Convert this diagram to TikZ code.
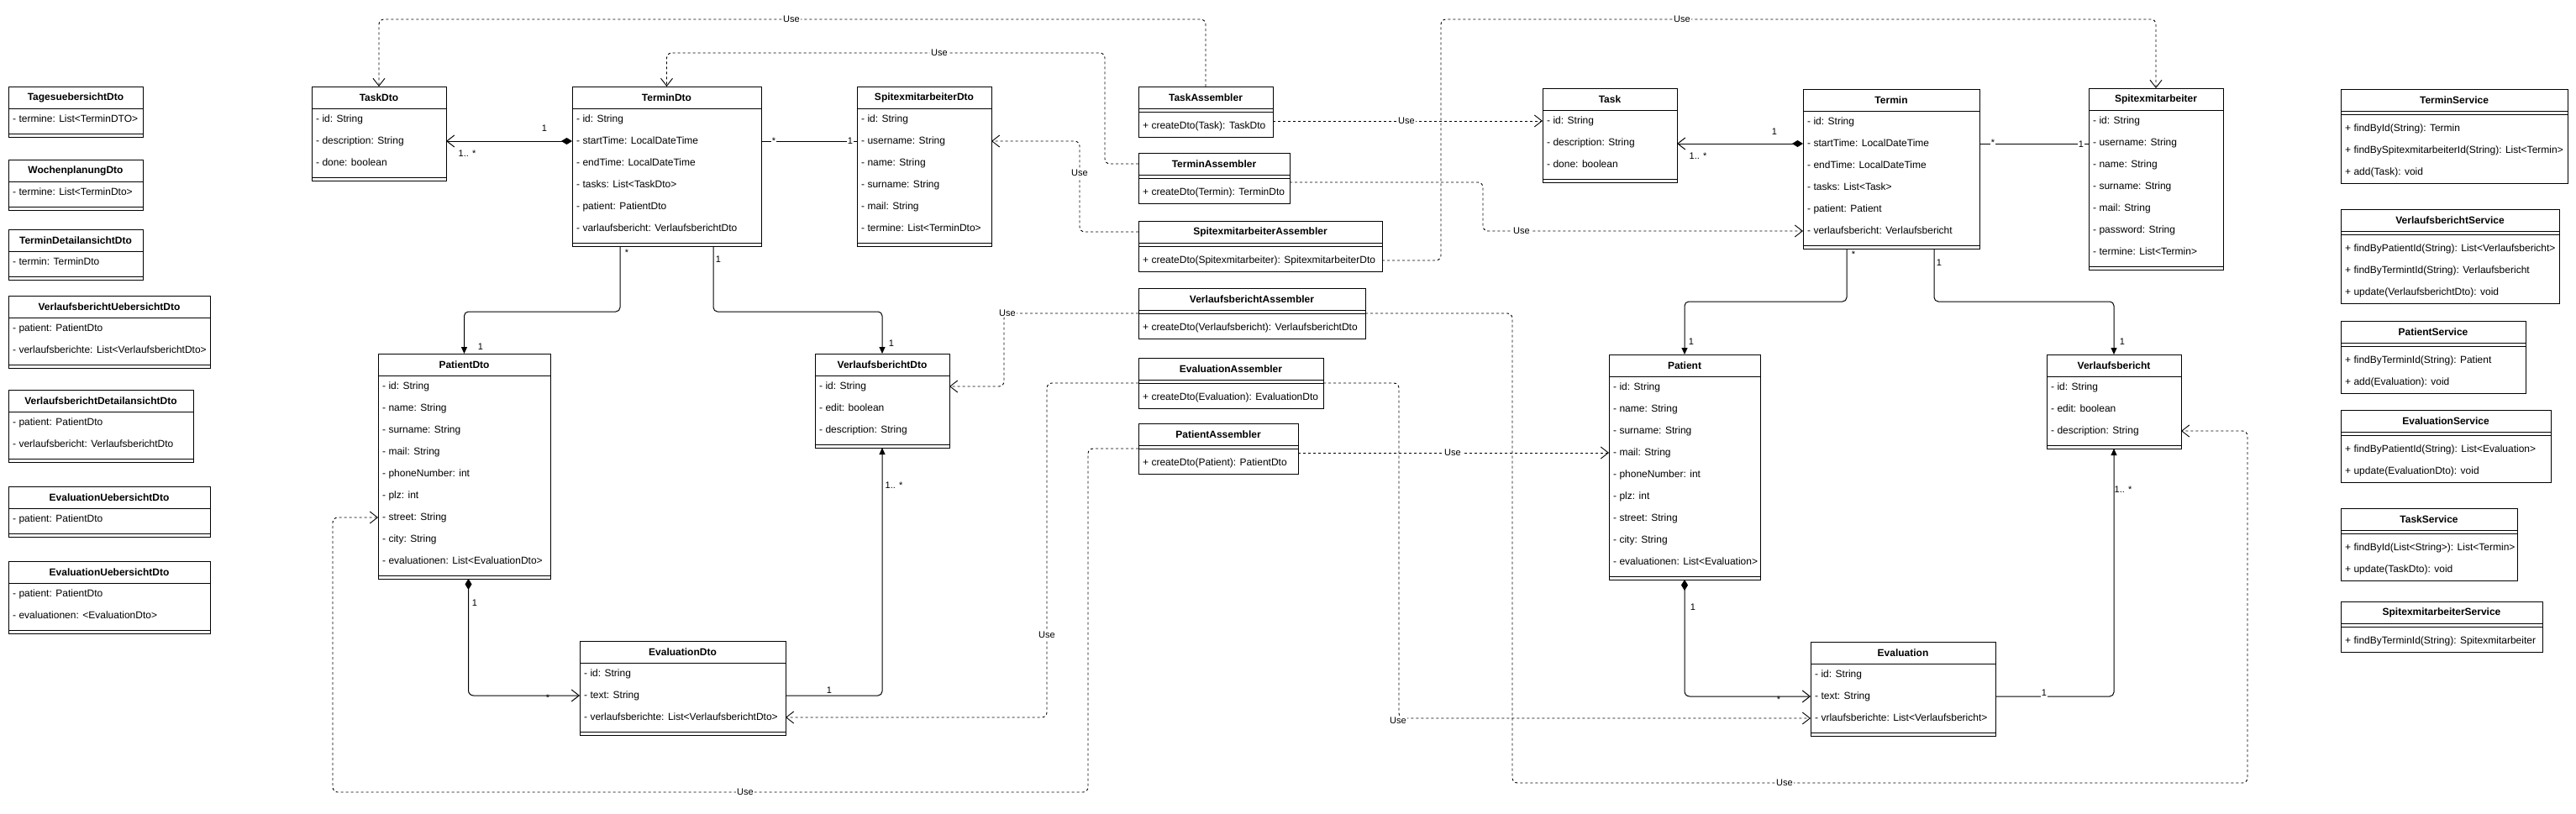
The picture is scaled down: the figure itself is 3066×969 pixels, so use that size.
\documentclass[tikz,border=0pt]{standalone}
\usepackage{fontspec}
\setmainfont{Liberation Sans}
\usetikzlibrary{arrows.meta,calc}

\tikzset{
  classbox/.style={draw=black, line width=1pt, anchor=north west, inner sep=0pt, outer sep=0pt, fill=white},
  ctitle/.style={font=\bfseries\fontsize{12}{14}\selectfont, inner sep=0pt},
  attr/.style={font=\fontsize{12}{14}\selectfont, anchor=west, inner sep=0pt, text height=8.5pt, text depth=2.5pt},
  sepline/.style={line width=1pt},
  line/.style={draw, line width=1pt},
  assoc/.style={draw, line width=1pt, rounded corners=5pt, -{Triangle[length=8pt,width=7pt]}},
  comp/.style={draw, line width=1pt, rounded corners=6pt, {Diamond[length=13pt,width=8pt]}-{Straight Barb[length=9pt,width=14pt]}},
  dep/.style={draw, line width=0.9pt, dash pattern=on 3pt off 3pt, rounded corners=6pt, -{Straight Barb[length=9pt,width=14pt]}},
  mult/.style={font=\fontsize{11}{13}\selectfont, inner sep=1pt},
  use/.style={font=\fontsize{11}{13}\selectfont, inner sep=1pt, fill=white},
}

% #1 name, #2 x, #3 y, #4 width, #5 title, #6 n attrs, #7 attrs, #8 n methods, #9 methods
\newcommand{\umlclass}[9]{%
  \pgfmathsetmacro{\uh}{34+26*#6+26*#8}%
  \node[classbox, minimum width=#4pt, minimum height=\uh pt] (#1) at (#2,#3) {};%
  \node[ctitle] at (#2+#4/2,#3+13) {#5};%
  \coordinate (#1-h) at (#2,#3+13);%
  \draw[sepline] (#2,#3+26) -- (#2+#4,#3+26);%
  \ifnum#6>0 \foreach \t [count=\i] in {#7} {\node[attr] at (#2+5,#3+13+26*\i) {\t}; \coordinate (#1-r\i) at (#2,#3+13+26*\i);}\fi
  \draw[sepline] (#2,#3+30+26*#6) -- (#2+#4,#3+30+26*#6);%
  \ifnum#8>0 \foreach \t [count=\i] in {#9} {\node[attr] at (#2+5,#3+21+26*#6+26*\i) {\t}; \coordinate (#1-m\i) at (#2,#3+21+26*#6+26*\i);}\fi
}

\begin{document}
\begin{tikzpicture}[x=1pt, y=-1pt]
\fill[white] (0,0) rectangle (3066,969);
\useasboundingbox (0,0) rectangle (3066,969);

% left column DTOs
\umlclass{Tages}{10}{103}{160}{TagesuebersichtDto}{1}{- termine: List<TerminDTO>}{0}{}
\umlclass{Wochen}{10}{190}{160}{WochenplanungDto}{1}{- termine: List<TerminDto>}{0}{}
\umlclass{TerminDet}{10}{273}{160}{TerminDetailansichtDto}{1}{- termin: TerminDto}{0}{}
\umlclass{VbUeb}{10}{352}{240}{VerlaufsberichtUebersichtDto}{2}{- patient: PatientDto, - verlaufsberichte: List<VerlaufsberichtDto>}{0}{}
\umlclass{VbDet}{10}{464}{220}{VerlaufsberichtDetailansichtDto}{2}{- patient: PatientDto, - verlaufsbericht: VerlaufsberichtDto}{0}{}
\umlclass{EvUebA}{10}{579}{240}{EvaluationUebersichtDto}{1}{- patient: PatientDto}{0}{}
\umlclass{EvUebB}{10}{668}{240}{EvaluationUebersichtDto}{2}{- patient: PatientDto, - evaluationen: <EvaluationDto>}{0}{}

% DTOs
\umlclass{TaskDto}{371}{103}{160}{TaskDto}{3}{- id: String, - description: String, - done: boolean}{0}{}
\umlclass{TerminDto}{681}{103}{225}{TerminDto}{6}{- id: String, - startTime: LocalDateTime, - endTime: LocalDateTime, - tasks: List<TaskDto>, - patient: PatientDto, - varlaufsbericht: VerlaufsberichtDto}{0}{}
\umlclass{SpitexmitarbeiterDto}{1020}{103}{160}{SpitexmitarbeiterDto}{6}{- id: String, - username: String, - name: String, - surname: String, - mail: String, - termine: List<TerminDto>}{0}{}
\umlclass{PatientDto}{450}{421}{205}{PatientDto}{9}{- id: String, - name: String, - surname: String, - mail: String, - phoneNumber: int, - plz: int, - street: String, - city: String, - evaluationen: List<EvaluationDto>}{0}{}
\umlclass{VerlaufsberichtDto}{970}{421}{160}{VerlaufsberichtDto}{3}{- id: String, - edit: boolean, - description: String}{0}{}
\umlclass{EvaluationDto}{690}{763}{245}{EvaluationDto}{3}{- id: String, - text: String, - verlaufsberichte: List<VerlaufsberichtDto>}{0}{}

% Assemblers
\umlclass{TaskAssembler}{1355}{103}{160}{TaskAssembler}{0}{}{1}{+ createDto(Task): TaskDto}
\umlclass{TerminAssembler}{1355}{182}{180}{TerminAssembler}{0}{}{1}{+ createDto(Termin): TerminDto}
\umlclass{SpitexmitarbeiterAssembler}{1355}{263}{290}{SpitexmitarbeiterAssembler}{0}{}{1}{+ createDto(Spitexmitarbeiter): SpitexmitarbeiterDto}
\umlclass{VerlaufsberichtAssembler}{1355}{343}{270}{VerlaufsberichtAssembler}{0}{}{1}{+ createDto(Verlaufsbericht): VerlaufsberichtDto}
\umlclass{EvaluationAssembler}{1355}{426}{220}{EvaluationAssembler}{0}{}{1}{+ createDto(Evaluation): EvaluationDto}
\umlclass{PatientAssembler}{1355}{504}{190}{PatientAssembler}{0}{}{1}{+ createDto(Patient): PatientDto}

% Entities
\umlclass{Task}{1836}{105}{160}{Task}{3}{- id: String, - description: String, - done: boolean}{0}{}
\umlclass{Termin}{2146}{106}{210}{Termin}{6}{- id: String, - startTime: LocalDateTime, - endTime: LocalDateTime, - tasks: List<Task>, - patient: Patient, - verlaufsbericht: Verlaufsbericht}{0}{}
\umlclass{Spitexmitarbeiter}{2486}{105}{160}{Spitexmitarbeiter}{7}{- id: String, - username: String, - name: String, - surname: String, - mail: String, - password: String, - termine: List<Termin>}{0}{}
\umlclass{Patient}{1915}{422}{180}{Patient}{9}{- id: String, - name: String, - surname: String, - mail: String, - phoneNumber: int, - plz: int, - street: String, - city: String, - evaluationen: List<Evaluation>}{0}{}
\umlclass{Verlaufsbericht}{2436}{422}{160}{Verlaufsbericht}{3}{- id: String, - edit: boolean, - description: String}{0}{}
\umlclass{Evaluation}{2155}{764}{220}{Evaluation}{3}{- id: String, - text: String, - vrlaufsberichte: List<Verlaufsbericht>}{0}{}

% Services
\umlclass{TerminService}{2786}{106}{270}{TerminService}{0}{}{3}{+ findById(String): Termin, + findBySpitexmitarbeiterId(String): List<Termin>, + add(Task): void}
\umlclass{VerlaufsberichtService}{2786}{249}{260}{VerlaufsberichtService}{0}{}{3}{+ findByPatientId(String): List<Verlaufsbericht>, + findByTermintId(String): Verlaufsbericht, + update(VerlaufsberichtDto): void}
\umlclass{PatientService}{2786}{382}{220}{PatientService}{0}{}{2}{+ findByTerminId(String): Patient, + add(Evaluation): void}
\umlclass{EvaluationService}{2786}{488}{250}{EvaluationService}{0}{}{2}{+ findByPatientId(String): List<Evaluation>, + update(EvaluationDto): void}
\umlclass{TaskService}{2786}{605}{210}{TaskService}{0}{}{2}{+ findById(List<String>): List<Termin>, + update(TaskDto): void}
\umlclass{SpitexmitarbeiterService}{2786}{716}{240}{SpitexmitarbeiterService}{0}{}{1}{+ findByTerminId(String): Spitexmitarbeiter}

% ---- DTO relations
\draw[comp] (TerminDto-r2) -- (TerminDto-r2 -| TaskDto.east);
\node[mult] at (648,153) {1};
\node[mult] at (556,183) {1.. *};

\draw[line] (TerminDto-r2 -| TerminDto.east) -- (SpitexmitarbeiterDto-r2);
\node[mult, fill=white] at (921,168) {*};
\node[mult, fill=white] at (1012,168) {1};

\draw[assoc] ([xshift=57pt]TerminDto.south west) -- ++(0,78) -| (PatientDto.north);
\node[mult] at (746,301) {*};
\node[mult] at (572,413) {1};

\draw[assoc] ([xshift=168pt]TerminDto.south west) -- ++(0,78) -| (VerlaufsberichtDto.north);
\node[mult] at (855,309) {1};
\node[mult] at (1061,409) {1};

\draw[comp] ([xshift=5pt]PatientDto.south) |- (EvaluationDto-r2);
\node[mult] at (565,718) {1};
\node[mult] at (652,831) {*};

\draw[assoc] (EvaluationDto-r2 -| EvaluationDto.east) -| (VerlaufsberichtDto.south);
\node[mult, fill=white] at (987,822) {1};
\node[mult] at (1064,578) {1.. *};

% ---- entity relations
\draw[comp] (Termin-r2) -- (Termin-r2 -| Task.east);
\node[mult] at (2112,157) {1};
\node[mult] at (2021,186) {1.. *};

\draw[line] (Termin-r2 -| Termin.east) -- (Termin-r2 -| Spitexmitarbeiter.west);
\node[mult, fill=white] at (2372,170) {*};
\node[mult, fill=white] at (2477,172) {1};

\draw[assoc] ([xshift=52pt]Termin.south west) -- ++(0,63) -| (Patient.north);
\node[mult] at (2206,303) {*};
\node[mult] at (2013,407) {1};

\draw[assoc] ([xshift=156pt]Termin.south west) -- ++(0,63) -| (Verlaufsbericht.north);
\node[mult] at (2308,313) {1};
\node[mult] at (2526,407) {1};

\draw[comp] (Patient.south) |- (Evaluation-r2);
\node[mult] at (2015,723) {1};
\node[mult] at (2117,833) {*};

\draw[assoc] (Evaluation-r2 -| Evaluation.east) -| (Verlaufsbericht.south);
\node[mult, fill=white] at (2433,825) {1};
\node[mult] at (2527,583) {1.. *};

% ---- dependencies
\draw[dep] (TaskAssembler.north) -- ++(0,-80) -| (TaskDto.north);
\draw[dep] (TerminAssembler-h) -- ++(-40,0) -- ++(0,-132) -| (TerminDto.north);
\draw[dep] (SpitexmitarbeiterAssembler-h) -- ++(-70,0) |- (SpitexmitarbeiterDto-r2 -| SpitexmitarbeiterDto.east);
\draw[dep] ([yshift=-30pt]VerlaufsberichtAssembler.north west) -- ++(-160,0) |- (VerlaufsberichtDto-r1 -| VerlaufsberichtDto.east);
\draw[dep] ([yshift=-30pt]VerlaufsberichtAssembler.north east) -- ++(175,0) -- ++(0,559) -- ++(875,0) |- (Verlaufsbericht-r3 -| Verlaufsbericht.east);
\draw[dep] ([yshift=-30pt]EvaluationAssembler.north west) -- ++(-109,0) |- (EvaluationDto-r3 -| EvaluationDto.east);
\draw[dep] ([yshift=-30pt]EvaluationAssembler.north east) -- ++(90,0) |- (Evaluation-r3);
\draw[dep] ([yshift=-30pt]PatientAssembler.north west) -- ++(-60,0) -- ++(0,409) -- ++(-899,0) |- (PatientDto-r7);
\draw[dep] (Patient-r4 -| PatientAssembler.east) -- (Patient-r4);
\draw[dep] (Task-r1 -| TaskAssembler.east) -- (Task-r1);
\draw[dep] ([yshift=-35pt]TerminAssembler.north east) -- ++(230,0) |- (Termin-r6);
\draw[dep] (SpitexmitarbeiterAssembler-m1 -| SpitexmitarbeiterAssembler.east) -- ++(70,0) -- ++(0,-287) -| (Spitexmitarbeiter.north);

\node[use] at (942,23) {Use};
\node[use] at (1118,63) {Use};
\node[use] at (1285,206) {Use};
\node[use] at (1199,373) {Use};
\node[use] at (2124,932) {Use};
\node[use] at (1246,756) {Use};
\node[use] at (1664,858) {Use};
\node[use] at (887,943) {Use};
\node[use] at (1729,539) {Use};
\node[use] at (1674,144) {Use};
\node[use] at (1811,275) {Use};
\node[use] at (2002,23) {Use};
\end{tikzpicture}
\end{document}
